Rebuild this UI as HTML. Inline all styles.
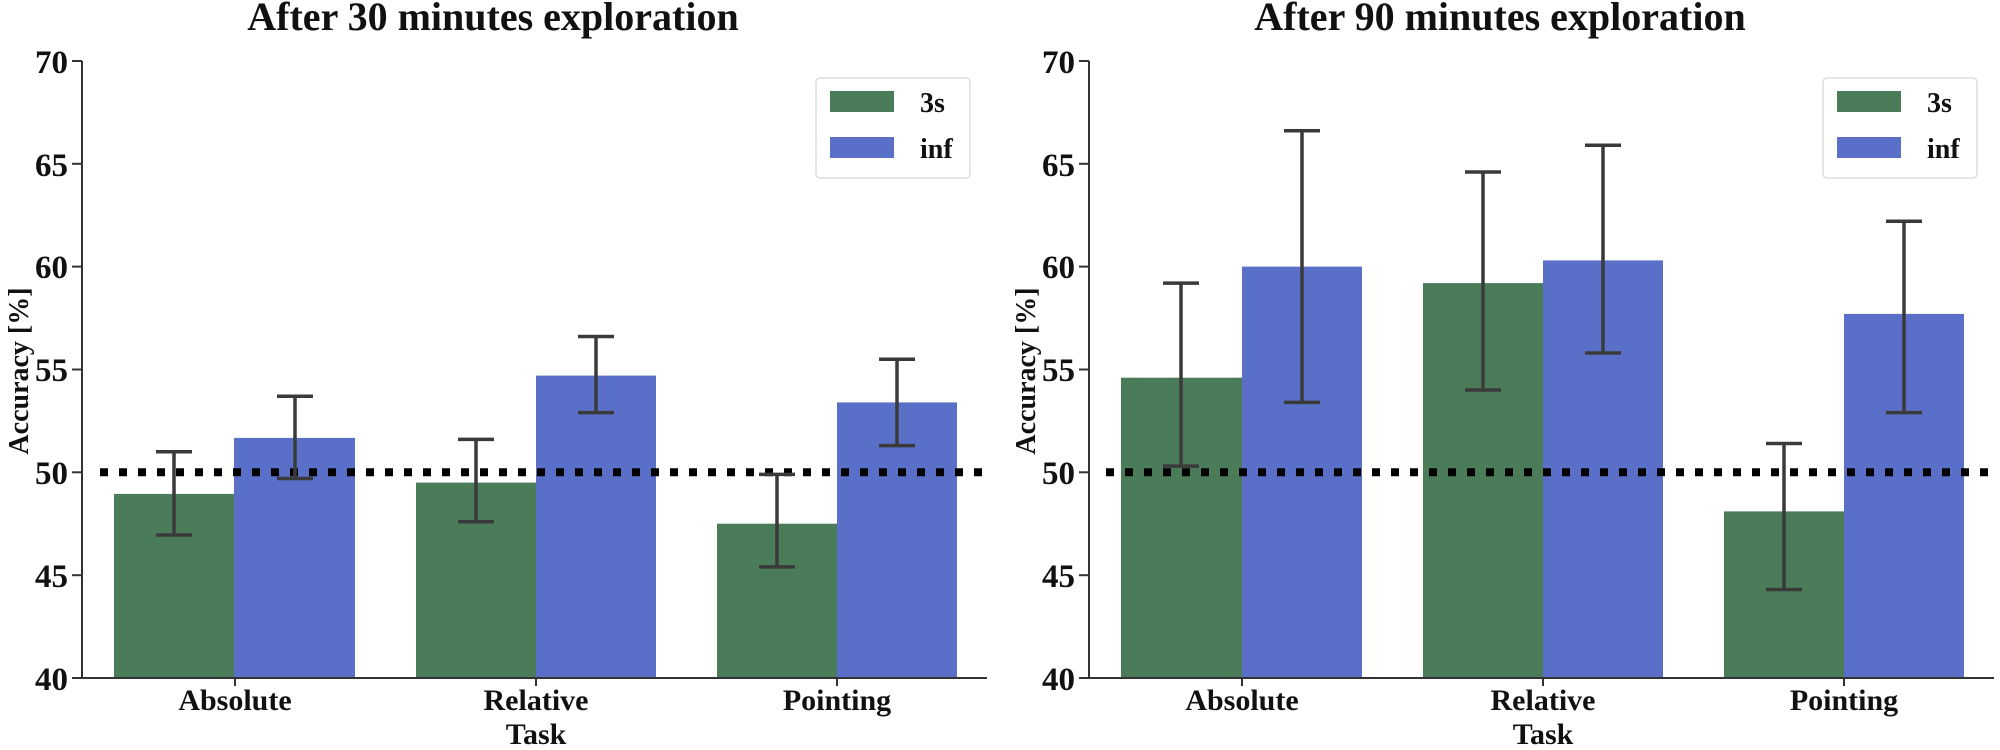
<!DOCTYPE html>
<html><head><meta charset="utf-8"><style>body{margin:0;background:#fff}svg{display:block}svg text{font-family:"Liberation Serif","Times New Roman",serif;font-weight:bold}</style></head><body>
<svg width="2000" height="750" viewBox="0 0 2000 750" xmlns="http://www.w3.org/2000/svg">
<defs>
<g id="yt" font-size="33" text-anchor="end" fill="#111">
<text x="68" y="690">40</text><text x="68" y="587">45</text><text x="68" y="484">50</text><text x="68" y="381">55</text><text x="68" y="278">60</text><text x="68" y="176">65</text><text x="68" y="73">70</text>
<g stroke="#333" stroke-width="2"><line x1="72" y1="678" x2="82" y2="678"/><line x1="72" y1="575.2" x2="82" y2="575.2"/><line x1="72" y1="472.3" x2="82" y2="472.3"/><line x1="72" y1="369.5" x2="82" y2="369.5"/><line x1="72" y1="266.6" x2="82" y2="266.6"/><line x1="72" y1="163.8" x2="82" y2="163.8"/><line x1="72" y1="61" x2="82" y2="61"/></g>
</g>
</defs>

<g>
<text x="493" y="30" font-size="40" text-anchor="middle" fill="#111">After 30 minutes exploration</text>
<use href="#yt"/>
<text transform="translate(28,371) rotate(-90)" font-size="28" text-anchor="middle" fill="#111">Accuracy [%]</text>
<g fill="#4a7c59"><rect x="114" y="493.9" width="120" height="184.1"/><rect x="416" y="482.6" width="120" height="195.4"/><rect x="717" y="523.7" width="120" height="154.3"/></g>
<g fill="#5a70c8"><rect x="234" y="437.9" width="121" height="240.1"/><rect x="536" y="375.6" width="120" height="302.4"/><rect x="837" y="402.4" width="120" height="275.6"/></g>
<line x1="100" y1="472.3" x2="987" y2="472.3" stroke="#000" stroke-width="8" stroke-dasharray="8,11"/>
<g stroke="#3a3a3a" stroke-width="3.5" fill="none">
<path d="M174 451.7V535M156 451.7H192M156 535H192"/>
<path d="M295 396.2V478.5M277 396.2H313M277 478.5H313"/>
<path d="M476 439.4V521.7M458 439.4H494M458 521.7H494"/>
<path d="M596 336.5V412.6M578 336.5H614M578 412.6H614"/>
<path d="M777 474.4V566.9M759 474.4H795M759 566.9H795"/>
<path d="M897 359.2V445.6M879 359.2H915M879 445.6H915"/>
</g>
<g stroke="#333" stroke-width="2"><line x1="82" y1="61" x2="82" y2="679"/><line x1="81" y1="678" x2="987" y2="678"/>
<line x1="235" y1="678" x2="235" y2="686"/><line x1="536" y1="678" x2="536" y2="686"/><line x1="837" y1="678" x2="837" y2="686"/></g>
<g font-size="30" text-anchor="middle" fill="#111"><text x="235" y="710">Absolute</text><text x="536" y="710">Relative</text><text x="837" y="710">Pointing</text><text x="536" y="744">Task</text></g>
<rect x="816" y="78" width="154" height="100" rx="4" fill="#fff" stroke="#ddd" stroke-width="1.5"/>
<rect x="830" y="91" width="64" height="21" fill="#4a7c59"/><rect x="830" y="137" width="64" height="21" fill="#5a70c8"/>
<text x="920" y="112" font-size="28" fill="#111">3s</text><text x="920" y="158" font-size="28" fill="#111">inf</text>
</g>

<g>
<text x="1500" y="30" font-size="40" text-anchor="middle" fill="#111">After 90 minutes exploration</text>
<g transform="translate(1007,0)"><use href="#yt"/>
<text transform="translate(28,371) rotate(-90)" font-size="28" text-anchor="middle" fill="#111">Accuracy [%]</text></g>
<g fill="#4a7c59"><rect x="1121" y="377.7" width="121" height="300.3"/><rect x="1423" y="283.1" width="120" height="394.9"/><rect x="1724" y="511.4" width="120" height="166.6"/></g>
<g fill="#5a70c8"><rect x="1242" y="266.6" width="120" height="411.4"/><rect x="1543" y="260.4" width="120" height="417.6"/><rect x="1844" y="313.9" width="120" height="364.1"/></g>
<line x1="1106" y1="472.3" x2="1994" y2="472.3" stroke="#000" stroke-width="8" stroke-dasharray="8,11"/>
<g stroke="#3a3a3a" stroke-width="3.5" fill="none">
<path d="M1181 283.1V466.1M1163 283.1H1199M1163 466.1H1199"/>
<path d="M1302 130.8V402.4M1284 130.8H1320M1284 402.4H1320"/>
<path d="M1483 172V390M1465 172H1501M1465 390H1501"/>
<path d="M1603 145.2V353M1585 145.2H1621M1585 353H1621"/>
<path d="M1784 443.5V589.5M1766 443.5H1802M1766 589.5H1802"/>
<path d="M1904 221.3V412.6M1886 221.3H1922M1886 412.6H1922"/>
</g>
<g stroke="#333" stroke-width="2"><line x1="1089" y1="61" x2="1089" y2="679"/><line x1="1088" y1="678" x2="1994" y2="678"/>
<line x1="1242" y1="678" x2="1242" y2="686"/><line x1="1543" y1="678" x2="1543" y2="686"/><line x1="1844" y1="678" x2="1844" y2="686"/></g>
<g font-size="30" text-anchor="middle" fill="#111"><text x="1242" y="710">Absolute</text><text x="1543" y="710">Relative</text><text x="1844" y="710">Pointing</text><text x="1543" y="744">Task</text></g>
<rect x="1823" y="78" width="154" height="100" rx="4" fill="#fff" stroke="#ddd" stroke-width="1.5"/>
<rect x="1837" y="91" width="64" height="21" fill="#4a7c59"/><rect x="1837" y="137" width="64" height="21" fill="#5a70c8"/>
<text x="1927" y="112" font-size="28" fill="#111">3s</text><text x="1927" y="158" font-size="28" fill="#111">inf</text>
</g>
</svg>
</body></html>
